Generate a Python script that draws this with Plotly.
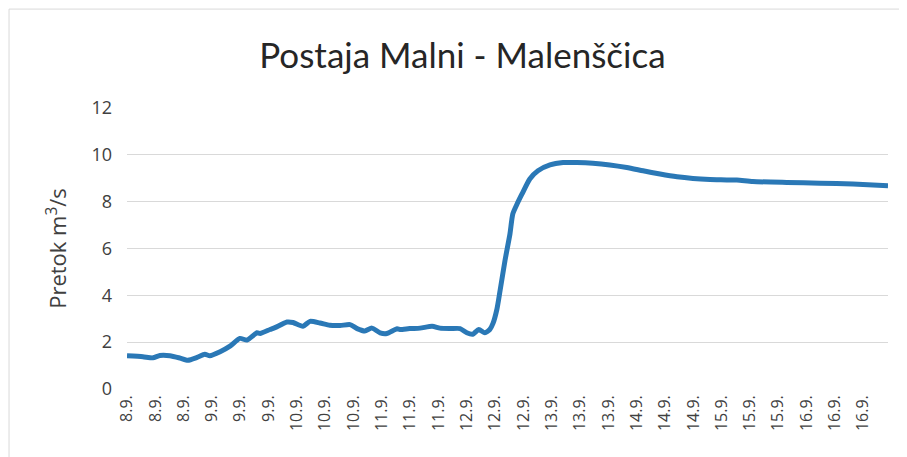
import plotly.graph_objects as go

# Hours since 8.9. 00:00 (hourly record)
hours = [0, 4.5, 7.3, 9.3, 12.1, 15, 17.2, 19.8, 22, 23.4, 26.3, 29.1, 31.9, 33.9,
         36.7, 37.6, 40.4, 41.8, 45.2, 46.9, 49.7, 51.7, 54.5, 57.3, 60.2, 63,
         65, 67.2, 69.2, 71.5, 73.4, 76.3, 77.1, 79.9, 82.8, 86.2, 88.4, 91.2,
         94.1, 96, 97.7, 99.4, 101.1, 102.5, 103.4, 104.5, 105.4, 106.8, 108.2,
         109, 110.2, 111.6, 113.8, 116.1, 119.5, 123.2, 127.1, 131.6, 136.4,
         141.2, 145.8, 150.6, 155.4, 159.9, 164.7, 172.3, 176.8, 186.4, 195.8,
         205.1, 215]
flow = [1.42, 1.38, 1.33, 1.43, 1.42, 1.32, 1.23, 1.35, 1.48, 1.42, 1.59, 1.83,
        2.16, 2.09, 2.40, 2.37, 2.54, 2.62, 2.86, 2.84, 2.68, 2.89, 2.82, 2.72,
        2.71, 2.75, 2.58, 2.48, 2.60, 2.40, 2.37, 2.57, 2.54, 2.58, 2.60, 2.68,
        2.60, 2.58, 2.58, 2.40, 2.34, 2.54, 2.40, 2.54, 2.8, 3.4, 4.2, 5.49,
        6.63, 7.48, 7.90, 8.33, 8.97, 9.32, 9.57, 9.67, 9.67, 9.64, 9.57, 9.46,
        9.32, 9.18, 9.06, 8.99, 8.95, 8.92, 8.86, 8.82, 8.79, 8.75, 8.68]

tick_hours = list(range(0, 216, 8))
tick_labels = ["8.9.", "8.9.", "8.9.", "9.9.", "9.9.", "9.9.", "10.9.", "10.9.", "10.9.",
               "11.9.", "11.9.", "11.9.", "12.9.", "12.9.", "12.9.", "13.9.", "13.9.", "13.9.",
               "14.9.", "14.9.", "14.9.", "15.9.", "15.9.", "15.9.", "16.9.", "16.9.", "16.9."]
y_ticks = [0, 2, 4, 6, 8, 10, 12]

fig = go.Figure()
fig.add_trace(go.Scatter(x=hours, y=flow, mode="lines",
                         line=dict(color="#2a78b6", width=5, shape="spline", smoothing=0.6),
                         showlegend=False))

fig.update_layout(
    width=907, height=457,
    margin=dict(l=119, r=27, t=100, b=76, autoexpand=False),
    paper_bgcolor="white", plot_bgcolor="white",
    font=dict(family="Open Sans", color="#404040"),
    title=dict(text="Postaja Malni - Malenščica", x=0.501, xanchor="center",
               y=0.895, yanchor="middle",
               font=dict(family="Lato", size=35, color="#262626")),
    shapes=[dict(type="rect", xref="paper", yref="paper",
                 x0=-0.155, x1=1.0158, y0=-0.40, y1=1.352,
                 line=dict(color="#d9d9d9", width=1))],
)
fig.update_xaxes(range=[0, 215], tickmode="array", tickvals=tick_hours, ticktext=tick_labels,
                 tickangle=-90, showgrid=False, zeroline=False, showline=False,
                 automargin=False, ticklabelstandoff=2,
                 tickfont=dict(size=16, color="#404040"), ticks="")
fig.update_yaxes(range=[0, 12], tickmode="array", tickvals=y_ticks,
                 showgrid=True, gridcolor="#d9d9d9", gridwidth=1, zeroline=False,
                 showline=False, ticks="", ticklabelstandoff=14, automargin=False,
                 tickfont=dict(size=18, color="#404040"),
                 title=dict(text="Pretok m<sup>3</sup>/s", standoff=18,
                            font=dict(size=22, color="#404040")))

fig.write_html("out.html")
